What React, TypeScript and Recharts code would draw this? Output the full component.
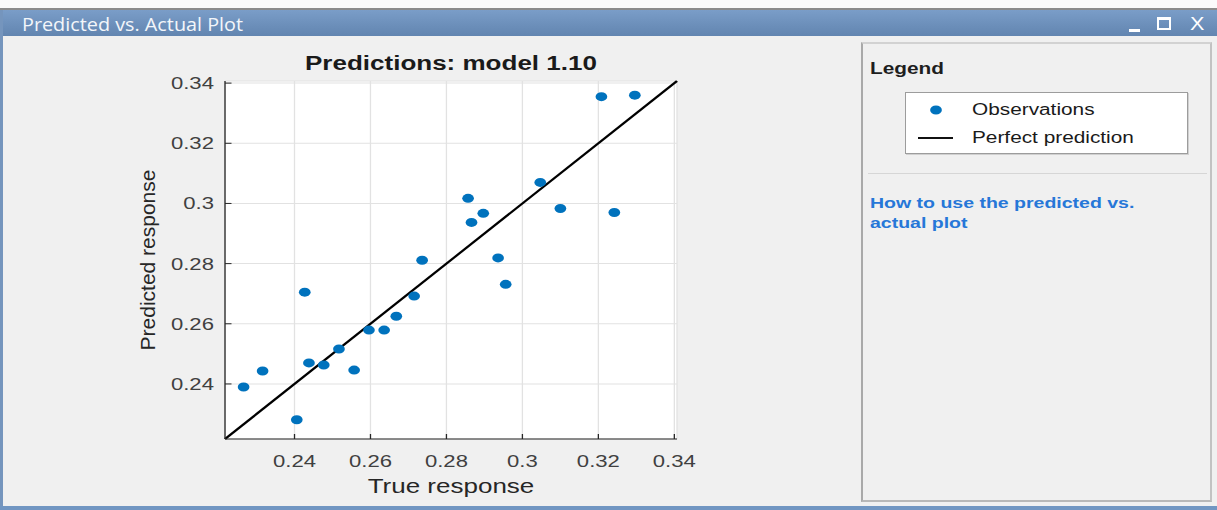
import React from "react";
import {
  ScatterChart,
  Scatter,
  XAxis,
  YAxis,
  CartesianGrid,
  ReferenceLine,
} from "recharts";

// observations: true vs predicted response
const trueResponse = [
  0.2266, 0.2316, 0.2406, 0.2427, 0.2438, 0.2477, 0.2517, 0.2557, 0.2596,
  0.2636, 0.2668, 0.2715, 0.2736, 0.2857, 0.2866, 0.2897, 0.2936, 0.2956,
  0.3047, 0.31, 0.3208, 0.3242, 0.3296,
];
const predictedResponse = [
  0.239, 0.2443, 0.2281, 0.2705, 0.247, 0.2463, 0.2516, 0.2446, 0.2579,
  0.2579, 0.2625, 0.2692, 0.2811, 0.3017, 0.2937, 0.2967, 0.2819, 0.2731,
  0.307, 0.2983, 0.3355, 0.297, 0.336,
];
const axisTicks = [0.24, 0.26, 0.28, 0.3, 0.32, 0.34];
const tickLabels = ["0.24", "0.26", "0.28", "0.3", "0.32", "0.34"];
const axisLimits = [0.2217, 0.3407];

const observations = trueResponse.map((x, i) => ({
  x,
  y: predictedResponse[i],
}));

const FONT = "'Liberation Sans', Arial, Helvetica, sans-serif";
const BLUE = "#0072BD";
const SX = 1.3; // the figure is drawn wide

const W = 1217;
const H = 510;
const CHART_LEFT = 80;
const CHART_TOP = 40;
const CHART_W = 460;
const CHART_H = 470;
const Y_AXIS_W = 60;
const plotLeft = 225 / SX;
const plotRight = 677 / SX;

const formatTick = (v: number) => {
  const i = axisTicks.findIndex((t) => Math.abs(t - v) < 1e-9);
  return i >= 0 ? tickLabels[i] : String(v);
};

const Dot = (props: any) => (
  <circle cx={props.cx} cy={props.cy} r={4.5} fill={BLUE} />
);

const App = () => {
  return (
    <div
      style={{
        position: "fixed",
        left: 0,
        top: 0,
        width: W,
        height: H,
        background: "#f0f0f0",
        overflow: "hidden",
        fontFamily: FONT,
      }}
    >
      {/* window chrome */}
      <div style={{ position: "absolute", left: 0, top: 0, width: W, height: 8, background: "#fbfbfb" }} />
      <div style={{ position: "absolute", left: 0, top: 8, width: W, height: 2, background: "#8c8c8c" }} />
      <div
        style={{
          position: "absolute",
          left: 0,
          top: 10,
          width: W,
          height: 26,
          background: "linear-gradient(#7a9dc8, #6285b0)",
        }}
      />
      <div
        style={{
          position: "absolute",
          left: 22,
          top: 13,
          fontFamily: "'Open Sans', sans-serif",
          fontSize: 18,
          lineHeight: "22px",
          color: "#f3f6fa",
          whiteSpace: "nowrap",
          transform: "scaleX(1.1)",
          transformOrigin: "0 0",
        }}
      >
        Predicted vs. Actual Plot
      </div>
      <div style={{ position: "absolute", left: 1129, top: 29, width: 11, height: 3, background: "#fff" }} />
      <div
        style={{
          position: "absolute",
          left: 1157,
          top: 17,
          width: 10,
          height: 8,
          borderStyle: "solid",
          borderColor: "#fff",
          borderWidth: "3px 2px 2px 2px",
        }}
      />
      <div
        style={{
          position: "absolute",
          left: 1190,
          top: 13,
          fontSize: 18,
          lineHeight: "22px",
          color: "#fff",
          transform: "scaleX(1.2)",
          transformOrigin: "0 0",
        }}
      >
        X
      </div>
      <div style={{ position: "absolute", left: 0, top: 10, width: 3, height: H - 10, background: "#7595bd" }} />
      <div style={{ position: "absolute", left: 0, top: 506, width: W, height: 4, background: "#7196c2" }} />

      {/* side panel frame */}
      <div
        style={{
          position: "absolute",
          left: 861,
          top: 42,
          width: 347,
          height: 456,
          borderLeft: "2px solid #a9a9a9",
          borderTop: "2px solid #d2d2d2",
          borderRight: "2px solid #c2c2c2",
          borderBottom: "2px solid #b8b8b8",
        }}
      />
      <div
        style={{
          position: "absolute",
          left: 905,
          top: 92,
          width: 281,
          height: 60,
          background: "#fff",
          border: "1px solid #9c9c9c",
          boxShadow: "1px 1px 0 #d0d0d0",
        }}
      />
      <div style={{ position: "absolute", left: 918, top: 137, width: 35, height: 2, background: "#111" }} />
      <div style={{ position: "absolute", left: 868, top: 173, width: 339, height: 1, background: "#d6d6d6" }} />

      <div
        style={{
          position: "absolute",
          left: 148,
          top: 260,
          transform: "translate(-50%, -50%) rotate(-90deg)",
          fontSize: 21,
          lineHeight: "24px",
          color: "#262626",
          whiteSpace: "nowrap",
        }}
      >
        Predicted response
      </div>

      {/* widened layer: chart and panel text */}
      <div
        style={{
          position: "absolute",
          left: 0,
          top: 0,
          width: W / SX,
          height: H,
          transform: `scaleX(${SX})`,
          transformOrigin: "0 0",
        }}
      >
        <div
          style={{
            position: "absolute",
            left: plotLeft,
            width: plotRight - plotLeft,
            top: 51,
            textAlign: "center",
            fontSize: 20,
            lineHeight: "24px",
            fontWeight: "bold",
            color: "#1a1a1a",
          }}
        >
          Predictions: model 1.10
        </div>

        <div style={{ position: "absolute", left: CHART_LEFT, top: CHART_TOP }}>
          <ScatterChart
            width={CHART_W}
            height={CHART_H}
            margin={{
              top: 41,
              right: CHART_LEFT + CHART_W - plotRight,
              bottom: 41,
              left: plotLeft - CHART_LEFT - Y_AXIS_W,
            }}
          >
            <CartesianGrid stroke="#e2e2e2" fill="#ffffff" />
            <XAxis
              type="number"
              dataKey="x"
              domain={axisLimits}
              ticks={axisTicks}
              interval={0}
              allowDataOverflow
              height={30}
              tickSize={-5}
              tickMargin={21}
              tickFormatter={formatTick}
              axisLine={{ stroke: "#262626" }}
              tickLine={{ stroke: "#262626" }}
              tick={{ fontSize: 17, fill: "#404040", fontFamily: FONT }}
              label={{
                value: "True response",
                position: "bottom",
                offset: 10,
                fontSize: 20,
                fill: "#262626",
                fontFamily: FONT,
              }}
            />
            <YAxis
              type="number"
              dataKey="y"
              domain={axisLimits}
              ticks={axisTicks}
              interval={0}
              allowDataOverflow
              width={Y_AXIS_W}
              tickSize={-5}
              tickMargin={13.5}
              tickFormatter={formatTick}
              axisLine={{ stroke: "#262626" }}
              tickLine={{ stroke: "#262626" }}
              tick={{ fontSize: 17, fill: "#404040", fontFamily: FONT }}
            />
            <ReferenceLine
              segment={[
                { x: axisLimits[0], y: axisLimits[0] },
                { x: axisLimits[1], y: axisLimits[1] },
              ]}
              stroke="#000"
              strokeWidth={2}
              ifOverflow="visible"
            />
            <Scatter
              name="Observations"
              data={observations}
              shape={Dot}
              isAnimationActive={false}
            />
          </ScatterChart>
        </div>

        <div
          style={{
            position: "absolute",
            left: 870 / SX,
            top: 59,
            fontSize: 16,
            lineHeight: "20px",
            fontWeight: "bold",
            color: "#1e1e1e",
          }}
        >
          Legend
        </div>
        <svg
          style={{ position: "absolute", left: 936 / SX - 5, top: 105 }}
          width={10}
          height={10}
        >
          <circle cx={5} cy={5} r={4.5} fill={BLUE} />
        </svg>
        <div
          style={{
            position: "absolute",
            left: 972 / SX,
            top: 100,
            fontSize: 16,
            lineHeight: "20px",
            color: "#1a1a1a",
            whiteSpace: "nowrap",
          }}
        >
          Observations
        </div>
        <div
          style={{
            position: "absolute",
            left: 972 / SX,
            top: 128,
            fontSize: 16,
            lineHeight: "20px",
            color: "#1a1a1a",
            whiteSpace: "nowrap",
          }}
        >
          Perfect prediction
        </div>
        <div
          style={{
            position: "absolute",
            left: 870 / SX,
            top: 193,
            fontSize: 15,
            lineHeight: "20px",
            fontWeight: "bold",
            color: "#2677d8",
            whiteSpace: "nowrap",
          }}
        >
          How to use the predicted vs.
          <br />
          actual plot
        </div>
      </div>
    </div>
  );
};

export default App;
